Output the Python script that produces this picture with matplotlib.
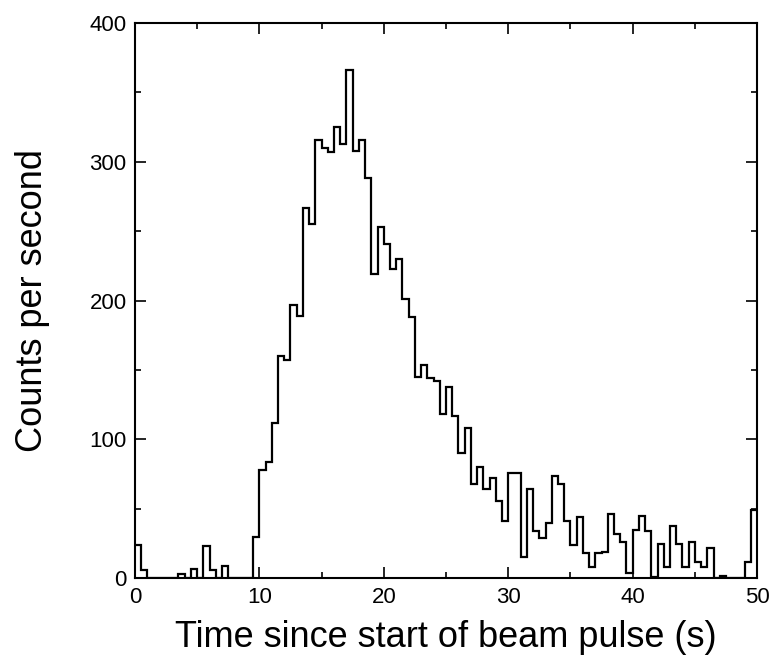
import numpy as np
import matplotlib
matplotlib.use("Agg")
import matplotlib.pyplot as plt
from matplotlib.ticker import MultipleLocator

plt.rcParams['font.family'] = ['Liberation Sans', 'DejaVu Sans']

# Zaehlrate pro 0.5 s Bin, 0 s bis 50 s
BIN_BREITE = 0.5
zaehlrate = [
    24, 6, 0, 0, 0, 0, 0, 3, 0, 7,
    0, 23, 6, 0, 9, 0, 0, 0, 0, 30,
    78, 84, 112, 160, 157, 197, 189, 267, 255, 316,
    310, 307, 325, 313, 366, 308, 316, 288, 219, 253,
    241, 223, 230, 201, 188, 145, 154, 144, 142, 118,
    138, 117, 90, 108, 68, 80, 64, 72, 56, 41,
    76, 76, 15, 64, 34, 29, 40, 74, 68, 41,
    24, 44, 18, 8, 18, 19, 46, 32, 26, 4,
    35, 45, 34, 1, 25, 8, 38, 25, 8, 26,
    12, 8, 22, 0, 2, 0, 0, 0, 12, 49,
]
x_ticks = [0, 10, 20, 30, 40, 50]
y_ticks = [0, 100, 200, 300, 400]


def main():
    fig = plt.figure(figsize=(7.75, 6.67), dpi=100)
    ax = fig.add_axes([0.174, 0.133, 0.803, 0.8325])

    kanten = np.arange(len(zaehlrate) + 1) * BIN_BREITE
    ax.stairs(zaehlrate, kanten, color='black', linewidth=1.6, baseline=None)

    ax.set_xlim(0, 50)
    ax.set_ylim(0, 400)
    ax.set_xticks(x_ticks)
    ax.set_yticks(y_ticks)
    ax.xaxis.set_minor_locator(MultipleLocator(5))
    ax.yaxis.set_minor_locator(MultipleLocator(50))
    ax.tick_params(which='both', direction='in', top=True, right=True, width=1.2)
    ax.tick_params(which='major', length=8, labelsize=16, pad=6)
    ax.tick_params(which='minor', length=4)
    for spine in ax.spines.values():
        spine.set_linewidth(1.5)

    ax.set_xlabel('Time since start of beam pulse (s)', fontsize=26, labelpad=9)
    ax.set_ylabel('Counts per second', fontsize=26, labelpad=28)

    fig.savefig('out.png', dpi=100)


if __name__ == "__main__":
    main()
